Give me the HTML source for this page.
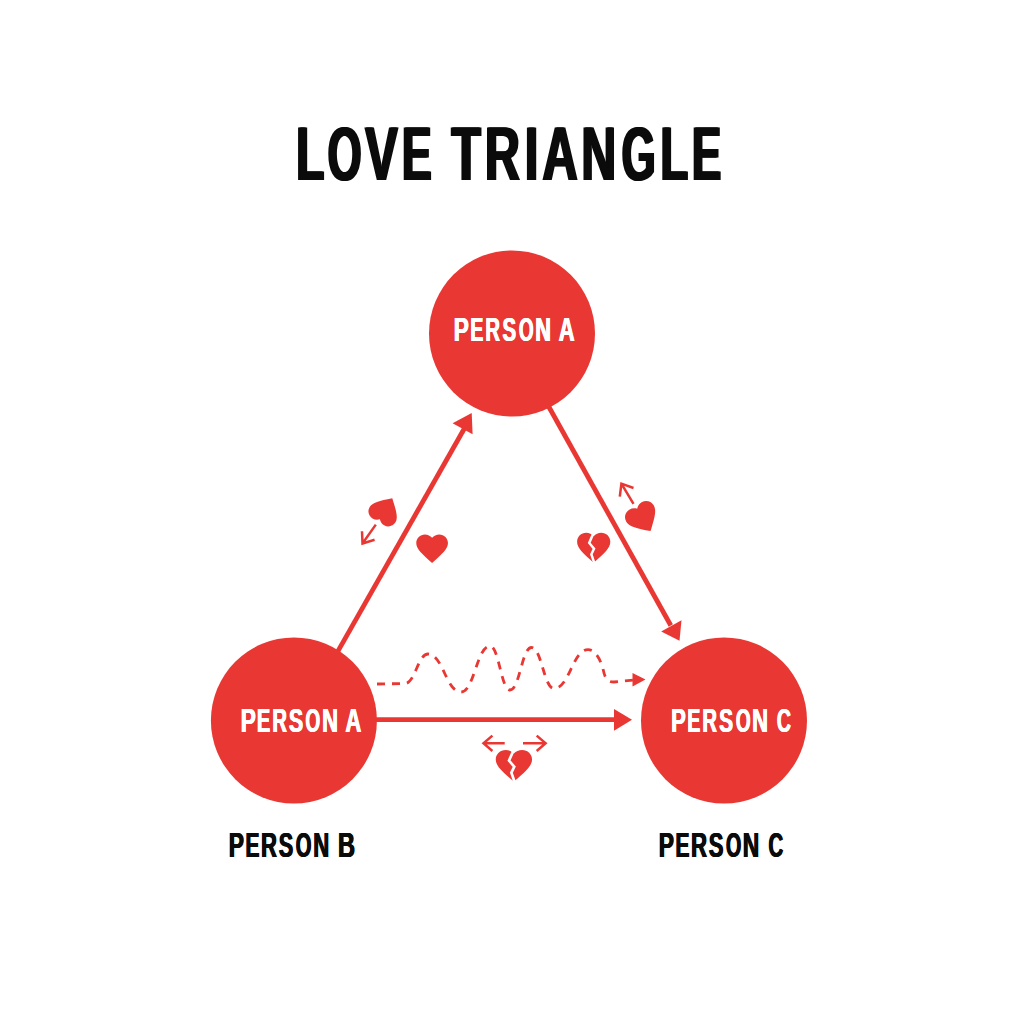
<!DOCTYPE html>
<html><head><meta charset="utf-8"><title>Love Triangle</title>
<style>
html,body{margin:0;padding:0;background:#fff;width:1024px;height:1024px;overflow:hidden}
svg{display:block}
text{font-family:"Liberation Sans",sans-serif;font-weight:bold}
</style></head>
<body>
<svg width="1024" height="1024" viewBox="0 0 1024 1024">
<defs>
<path id="hp" d="M0,9.175 C-6.6,3.185 -10,0.105 -10,-3.675 C-10,-6.755 -7.58,-9.175 -4.5,-9.175 C-2.76,-9.175 -1.09,-8.365 0,-7.085 C1.09,-8.365 2.76,-9.175 4.5,-9.175 C7.58,-9.175 10,-6.755 10,-3.675 C10,0.105 6.6,3.185 0,9.175 Z"/>
<g id="bh">
<use href="#hp"/>
<polyline points="0.2,-10 -0.9,-7.2 -2.7,-3.0 0.2,0.6 -1.4,4.0 0.6,10" fill="none" stroke="#fff" stroke-width="1.5" stroke-linejoin="miter"/>
</g>
</defs>
<rect width="1024" height="1024" fill="#fff"/>
<g fill="#E93833" stroke="none">
<circle cx="512" cy="333.5" r="83"/>
<circle cx="293.9" cy="720.5" r="83"/>
<circle cx="724" cy="720.5" r="83"/>
</g>
<g stroke="#E93833" stroke-width="4.8" fill="none">
<line x1="336.4" y1="653.9" x2="465.5" y2="426.5"/>
<line x1="547" y1="403.5" x2="670.8" y2="625.5"/>
<line x1="375.7" y1="719.6" x2="616" y2="719.6"/>
</g>
<g fill="#E93833">
<polygon points="471.7,413 452.6,423.3 472.6,434.2"/>
<polygon points="679.5,640.8 661.2,631.5 681.5,620.3"/>
<polygon points="632,719.7 614,709 614,730.8"/>
<polygon points="645.5,679.5 632.5,673 632.5,686.5"/>
</g>
<path d="M377,684 L405,683.5 C415,683.5 418,654 428,654 C442.9,654 446.1,692 461,692 C474.1,692 476.9,646 490,646 C499.0,646 501.0,690 510,690 C519.7,690 521.8,647.5 531.5,647.5 C541.6,647.5 543.9,688.5 554,688.5 C569.3,688.5 572.7,649.6 588,649.6 C596,649.6 601.5,662 603.5,671 C605.5,680 608.5,682 614,682 L634,680" fill="none" stroke="#E93833" stroke-width="2.8" stroke-dasharray="8 7"/>
<g fill="none" stroke="#E93833" stroke-width="2.5" stroke-linecap="butt" stroke-linejoin="miter">
<path d="M375.8,524.6 L362.5,543.5 M362,531.3 L362.5,543.5 L374.6,539.8"/>
<path d="M633.5,503.9 L621.4,483.6 M619.8,496.6 L621.4,483.6 L633.5,488"/>
<path d="M504.7,743.3 L483.5,743.3 M492.4,735.6 L483.5,743.3 L492.4,751"/>
<path d="M523,743.3 L545.6,743.3 M536.7,735.6 L545.6,743.3 L536.7,751"/>
</g>
<g fill="#E93833">
<use href="#hp" transform="translate(432.1,548.65) scale(1.585,1.553)"/>
<use href="#hp" transform="translate(385.3,510) rotate(-149.5) scale(1.5)"/>
<use href="#hp" transform="translate(643,518.5) rotate(-31) scale(1.6)"/>
<use href="#bh" transform="translate(593.7,547.8) scale(1.66,1.635)"/>
<use href="#bh" transform="translate(513.9,765.75) scale(1.815,1.727)"/>
</g>

<g id="ttl" fill="#0b0b0b" font-size="75.58">
<text transform="translate(295.03,179.5) scale(0.6061,1)">L</text>
<text transform="translate(326.41,179.5) scale(0.5787,1)">O</text>
<text transform="translate(363.96,179.5) scale(0.6484,1)">V</text>
<text transform="translate(400.83,179.5) scale(0.5872,1)">E</text>
<text transform="translate(450.37,179.5) scale(0.6335,1)">T</text>
<text transform="translate(483.65,179.5) scale(0.6428,1)">R</text>
<text transform="translate(523.84,179.5) scale(0.6248,1)">I</text>
<text transform="translate(541.17,179.5) scale(0.6487,1)">A</text>
<text transform="translate(580.18,179.5) scale(0.6368,1)">N</text>
<text transform="translate(620.52,179.5) scale(0.5743,1)">G</text>
<text transform="translate(659.14,179.5) scale(0.6035,1)">L</text>
<text transform="translate(690.87,179.5) scale(0.5778,1)">E</text>
</g>
<use href="#ttl" x="1.2"/>
<use href="#ttl" x="2.4"/>
<g id="tA" fill="#fff" font-size="33.72">
<text transform="translate(453.27,341.4) scale(0.6759,1)">P</text>
<text transform="translate(469.90,341.4) scale(0.5762,1)">E</text>
<text transform="translate(484.94,341.4) scale(0.6034,1)">R</text>
<text transform="translate(502.11,341.4) scale(0.6040,1)">S</text>
<text transform="translate(518.42,341.4) scale(0.5632,1)">O</text>
<text transform="translate(534.84,341.4) scale(0.6456,1)">N</text>
<text transform="translate(558.24,341.4) scale(0.6585,1)">A</text>
</g>
<use href="#tA" x="0.4"/>
<use href="#tA" x="0.8"/>
<g id="lA" fill="#fff" font-size="33.72">
<text transform="translate(240.27,732.1) scale(0.6759,1)">P</text>
<text transform="translate(256.56,732.1) scale(0.5920,1)">E</text>
<text transform="translate(271.94,732.1) scale(0.6034,1)">R</text>
<text transform="translate(288.38,732.1) scale(0.6387,1)">S</text>
<text transform="translate(305.02,732.1) scale(0.5632,1)">O</text>
<text transform="translate(321.73,732.1) scale(0.6506,1)">N</text>
<text transform="translate(344.94,732.1) scale(0.6585,1)">A</text>
</g>
<use href="#lA" x="0.4"/>
<use href="#lA" x="0.8"/>
<g id="rC" fill="#fff" font-size="33.72">
<text transform="translate(670.72,732.1) scale(0.6549,1)">P</text>
<text transform="translate(686.90,732.1) scale(0.5762,1)">E</text>
<text transform="translate(701.94,732.1) scale(0.6034,1)">R</text>
<text transform="translate(718.69,732.1) scale(0.6238,1)">S</text>
<text transform="translate(735.42,732.1) scale(0.5632,1)">O</text>
<text transform="translate(751.73,732.1) scale(0.6506,1)">N</text>
<text transform="translate(776.40,732.1) scale(0.5804,1)">C</text>
</g>
<use href="#rC" x="0.4"/>
<use href="#rC" x="0.8"/>
<g id="lbB" fill="#0b0b0b" font-size="34.74">
<text transform="translate(228.37,856.8) scale(0.6561,1)">P</text>
<text transform="translate(245.10,856.8) scale(0.6004,1)">E</text>
<text transform="translate(260.42,856.8) scale(0.6357,1)">R</text>
<text transform="translate(278.37,856.8) scale(0.6248,1)">S</text>
<text transform="translate(295.37,856.8) scale(0.5799,1)">O</text>
<text transform="translate(312.82,856.8) scale(0.6364,1)">N</text>
<text transform="translate(337.62,856.8) scale(0.6796,1)">B</text>
</g>
<use href="#lbB" x="0.5"/>
<use href="#lbB" x="1.0"/>
<g id="lbC" fill="#0b0b0b" font-size="34.74">
<text transform="translate(658.37,856.8) scale(0.6561,1)">P</text>
<text transform="translate(675.10,856.8) scale(0.6004,1)">E</text>
<text transform="translate(690.41,856.8) scale(0.6402,1)">R</text>
<text transform="translate(708.36,856.8) scale(0.6344,1)">S</text>
<text transform="translate(725.40,856.8) scale(0.5633,1)">O</text>
<text transform="translate(742.37,856.8) scale(0.6560,1)">N</text>
<text transform="translate(768.07,856.8) scale(0.5854,1)">C</text>
</g>
<use href="#lbC" x="0.5"/>
<use href="#lbC" x="1.0"/>
</svg>
</body></html>
